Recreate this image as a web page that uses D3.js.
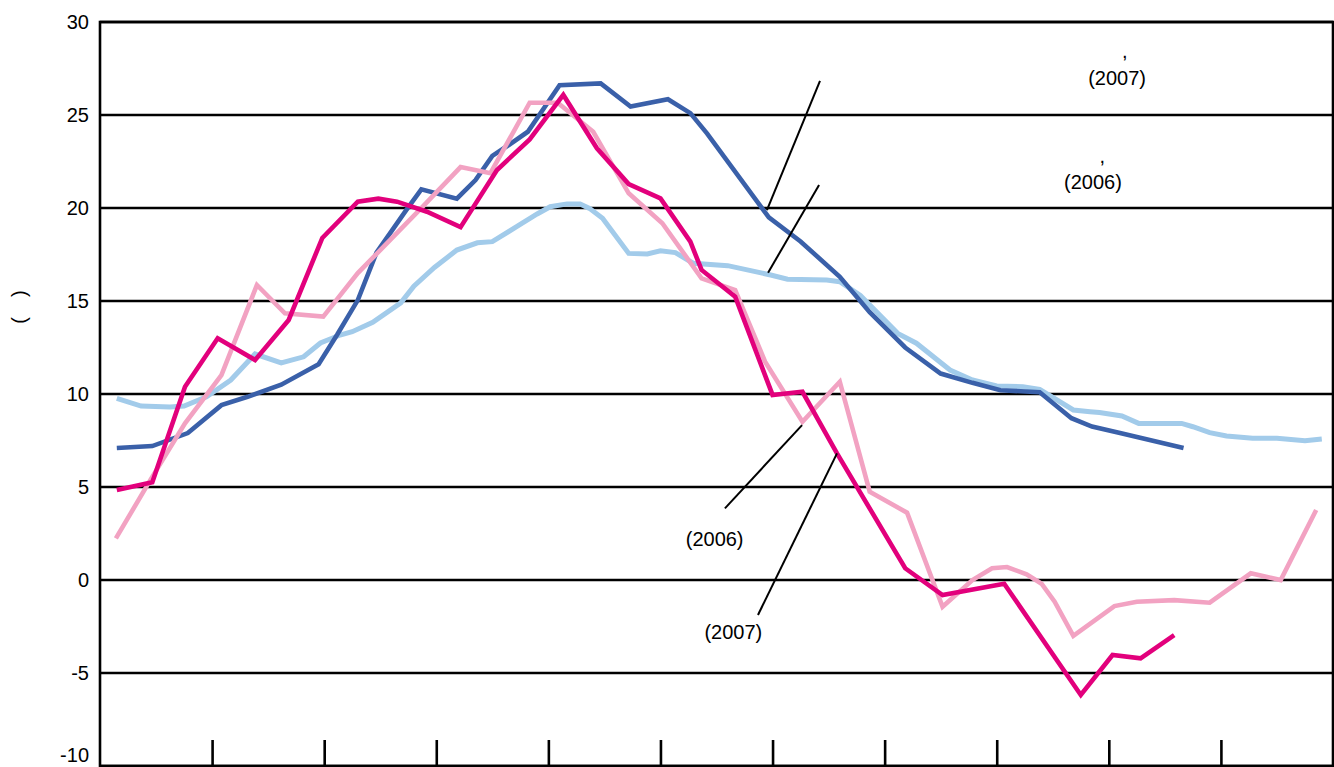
<!DOCTYPE html>
<html>
<head>
<meta charset="utf-8">
<script src="https://cdn.jsdelivr.net/npm/d3@7"></script>
<style>
  html, body { margin: 0; padding: 0; background: #fff; }
  svg { display: block; font-family: "Liberation Sans", Arial, sans-serif; }
</style>
</head>
<body>
<svg id="chart" width="1334" height="767"></svg>
<script>
// Period index (x) and percentage change (y) for each series
const darkBlue2007 = [
  [0.9, 7.1], [2.8, 7.2], [4.7, 7.9], [6.5, 9.4], [7.9, 9.85], [9.7, 10.5],
  [11.7, 11.6], [12.7, 13.2], [13.8, 15.05], [14.8, 17.6], [16.4, 19.9],
  [17.2, 21.0], [19.1, 20.5], [20.1, 21.5], [21.0, 22.8], [21.9, 23.4],
  [22.9, 24.1], [24.6, 26.6], [26.8, 26.7], [28.4, 25.45], [30.4, 25.85],
  [31.6, 25.1], [32.5, 24.0], [35.8, 19.5], [37.5, 18.2], [39.6, 16.3],
  [41.2, 14.4], [43.1, 12.5], [45.0, 11.1], [46.7, 10.6], [48.2, 10.2],
  [50.3, 10.1], [52.0, 8.7], [53.1, 8.25], [54.6, 7.9], [58.0, 7.1]
];
const lightBlue2006 = [
  [0.9, 9.77], [2.2, 9.35], [3.75, 9.3], [4.5, 9.35], [5.7, 9.85], [7.0, 10.75],
  [8.3, 12.15], [9.7, 11.67], [10.9, 12.0], [11.8, 12.74], [12.85, 13.17],
  [13.5, 13.35], [14.6, 13.85], [16.1, 14.9], [16.8, 15.8], [17.9, 16.8],
  [19.1, 17.74], [20.2, 18.13], [21.0, 18.19], [22.3, 19.0], [23.4, 19.68],
  [24.1, 20.07], [25.0, 20.22], [25.7, 20.22], [26.2, 19.98], [26.9, 19.45],
  [28.3, 17.56], [29.3, 17.53], [30.0, 17.7], [30.8, 17.6], [31.75, 17.03],
  [33.6, 16.9], [35.9, 16.4], [36.8, 16.17], [38.9, 16.13], [39.6, 16.04],
  [40.7, 15.3], [42.7, 13.26], [43.7, 12.73], [45.5, 11.29], [46.7, 10.75],
  [48.0, 10.43], [49.4, 10.39], [50.3, 10.25], [52.1, 9.14], [53.0, 9.05],
  [53.5, 9.0], [54.7, 8.82], [55.6, 8.42], [57.9, 8.42], [58.5, 8.24],
  [59.4, 7.92], [60.3, 7.74], [61.7, 7.62], [63.0, 7.62], [64.5, 7.49], [65.4, 7.58]
];
const darkPink2007 = [
  [0.9, 4.84], [2.8, 5.25], [4.55, 10.39], [6.3, 13.0], [8.3, 11.83],
  [10.1, 13.98], [11.9, 18.39], [13.8, 20.34], [14.9, 20.5], [15.9, 20.34],
  [17.5, 19.8], [19.3, 18.97], [21.25, 22.04], [23.0, 23.69], [24.8, 26.08],
  [26.6, 23.21], [28.3, 21.29], [30.0, 20.52], [31.6, 18.19], [32.2, 16.67],
  [34.0, 15.23], [36.0, 9.95], [37.6, 10.12], [39.45, 6.81], [43.1, 0.63],
  [45.1, -0.81], [48.4, -0.2], [52.5, -6.18], [54.2, -4.03], [55.7, -4.21],
  [57.5, -2.96]
];
const lightPink2006 = [
  [0.85, 2.24], [2.7, 5.38], [4.55, 8.42], [6.5, 11.02], [8.4, 15.86],
  [9.9, 14.34], [11.95, 14.16], [13.8, 16.5], [17.3, 20.1], [19.3, 22.2],
  [20.9, 21.87], [23.0, 25.66], [24.5, 25.66], [26.4, 24.1], [28.3, 20.79],
  [30.1, 19.18], [32.2, 16.22], [34.0, 15.59], [35.6, 11.74], [37.6, 8.51],
  [39.6, 10.66], [41.2, 4.75], [43.2, 3.62], [45.1, -1.44], [46.7, 0.0],
  [47.75, 0.63], [48.55, 0.7], [49.6, 0.3], [50.4, -0.2], [51.1, -1.17],
  [52.1, -3.0], [54.3, -1.4], [55.5, -1.17], [57.5, -1.08], [59.4, -1.22],
  [61.6, 0.36], [63.2, 0.0], [65.1, 3.76]
];

const yTicks = [30, 25, 20, 15, 10, 5, 0, -5, -10];
const xTicks = [6, 12, 18, 24, 30, 36, 42, 48, 54, 60];

// Leader lines and their captions, in data units
const leaderLines = [
  [[38.54, 26.84], [35.70, 19.89]],
  [[38.49, 21.24], [35.76, 16.52]],
  [[33.45, 3.85], [37.58, 8.33]],
  [[35.22, -1.88], [39.45, 6.81]]
];
const captions = [
  { text: ",", x: 54.85, y: 28.05 },
  { text: "(2007)", x: 54.44, y: 26.6 },
  { text: ",", x: 53.65, y: 22.4 },
  { text: "(2006)", x: 53.15, y: 21.0 },
  { text: "(2006)", x: 32.9, y: 1.83 },
  { text: "(2007)", x: 33.9, y: -3.17 }
];

const svg = d3.select("#chart");
const plotLeft = 100, plotRight = 1333, plotTop = 22, plotBottom = 766;

const x = d3.scaleLinear().domain([0, 66]).range([plotLeft, plotRight]);
const y = d3.scaleLinear().domain([-10, 30]).range([plotBottom, plotTop]);

// Horizontal grid
svg.append("g")
  .selectAll("line")
  .data(yTicks)
  .join("line")
  .attr("x1", plotLeft).attr("x2", plotRight)
  .attr("y1", d => y(d)).attr("y2", d => y(d))
  .attr("stroke", "#000").attr("stroke-width", 2.6);

// Frame
svg.append("rect")
  .attr("x", plotLeft).attr("y", plotTop)
  .attr("width", plotRight - plotLeft).attr("height", plotBottom - plotTop)
  .attr("fill", "none").attr("stroke", "#000").attr("stroke-width", 2.6);

// Y axis labels (plain hyphen for negatives; the lowest one sits up off the edge)
const yAxis = svg.append("g")
  .attr("transform", `translate(${plotLeft - 11},0)`)
  .call(d3.axisLeft(y).tickValues(yTicks).tickSize(0).tickPadding(0).tickFormat(d => String(d)));
yAxis.select(".domain").remove();
yAxis.selectAll("text")
  .attr("font-size", 20)
  .attr("font-family", "Liberation Sans, Arial, sans-serif")
  .attr("fill", "#000")
  .attr("dy", d => d === -10 ? "-0.22em" : "0.3em");

// Inner ticks along the bottom
const xAxis = svg.append("g")
  .attr("transform", `translate(0,${plotBottom})`)
  .call(d3.axisBottom(x).tickValues(xTicks).tickSize(-26).tickFormat(""));
xAxis.select(".domain").remove();
xAxis.selectAll("line").attr("stroke", "#000").attr("stroke-width", 2.6);

// Y axis title
svg.append("text")
  .attr("transform", "translate(26,307) rotate(-90)")
  .attr("text-anchor", "middle")
  .attr("font-size", 20)
  .attr("fill", "#000")
  .text("(\u2003)");

// Series
const line = d3.line().x(d => x(d[0])).y(d => y(d[1]));
const series = [
  { data: lightBlue2006, color: "#A2CBEA", width: 5 },
  { data: darkBlue2007, color: "#3A60A9", width: 4.6 },
  { data: lightPink2006, color: "#F2A2C2", width: 4.6 },
  { data: darkPink2007, color: "#E2007C", width: 4.6 }
];
svg.append("g")
  .selectAll("path")
  .data(series)
  .join("path")
  .attr("d", d => line(d.data))
  .attr("fill", "none")
  .attr("stroke", d => d.color)
  .attr("stroke-width", d => d.width)
  .attr("stroke-linejoin", "miter");

// Leader lines
svg.append("g")
  .selectAll("line")
  .data(leaderLines)
  .join("line")
  .attr("x1", d => x(d[0][0])).attr("y1", d => y(d[0][1]))
  .attr("x2", d => x(d[1][0])).attr("y2", d => y(d[1][1]))
  .attr("stroke", "#000").attr("stroke-width", 2);

// Captions
svg.append("g")
  .selectAll("text")
  .data(captions)
  .join("text")
  .attr("x", d => x(d.x)).attr("y", d => y(d.y))
  .attr("text-anchor", "middle")
  .attr("font-size", 20)
  .attr("fill", "#000")
  .text(d => d.text);
</script>
</body>
</html>
